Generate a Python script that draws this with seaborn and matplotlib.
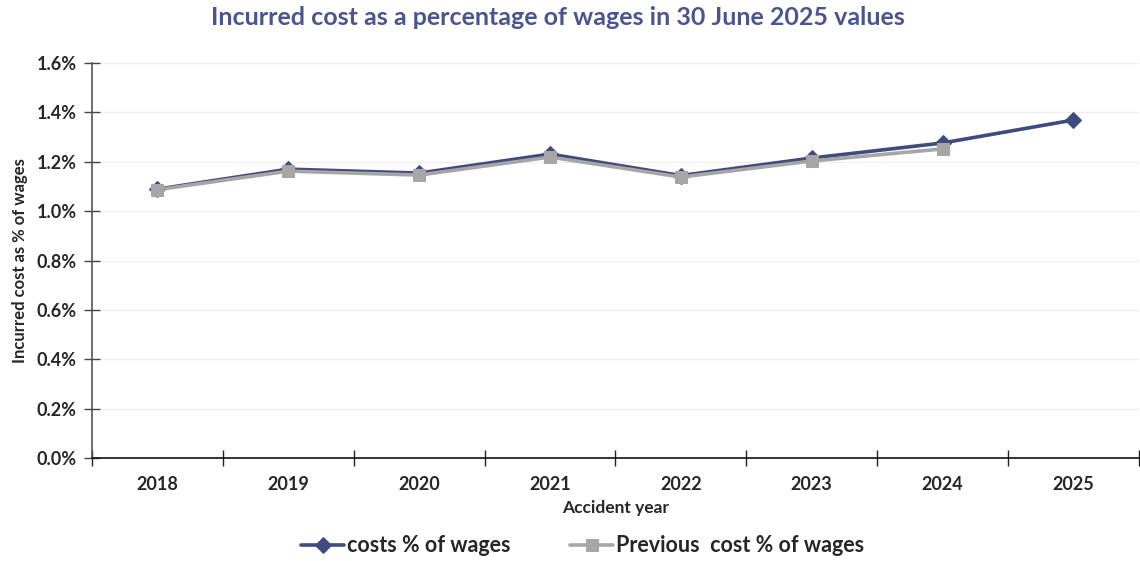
import numpy as np
import pandas as pd
import matplotlib
matplotlib.use("Agg")
import matplotlib.pyplot as plt
import seaborn as sns
from matplotlib.ticker import FuncFormatter, FixedLocator

years = ["2018", "2019", "2020", "2021", "2022", "2023", "2024", "2025"]
current_pct = [1.089, 1.170, 1.154, 1.231, 1.144, 1.215, 1.276, 1.369]
previous_pct = [1.087, 1.162, 1.146, 1.219, 1.138, 1.203, 1.252, np.nan]

series_current = "costs % of wages"
series_previous = "Previous  cost % of wages"

navy = "#3F4A7E"
grey = "#A6A6A6"
title_color = "#4A5590"

sns.set_theme(style="white")
plt.rcParams["font.family"] = ["Lato", "DejaVu Sans"]

df = pd.DataFrame({
    "pos": list(range(len(years))) * 2,
    "value": current_pct + previous_pct,
    "series": [series_current] * len(years) + [series_previous] * len(years),
}).dropna()

fig = plt.figure(figsize=(11.4, 5.61), dpi=100)
ax = fig.add_axes([0.0807, 0.1836, 0.9183, 0.7041])

# previous series first so the current one sits on top
sns.lineplot(data=df[df.series == series_previous], x="pos", y="value",
             color=grey, marker="s", markersize=9, markeredgecolor=grey,
             linewidth=2.6, ax=ax, label=series_previous, zorder=3)
sns.lineplot(data=df[df.series == series_current], x="pos", y="value",
             color=navy, marker="D", markersize=8, markeredgecolor=navy,
             linewidth=2.6, ax=ax, label=series_current, zorder=2)

ax.set_xlim(-0.5, len(years) - 0.5)
ax.set_ylim(0, 1.6)
ax.yaxis.set_major_locator(FixedLocator(np.arange(0, 1.61, 0.2)))
ax.yaxis.set_major_formatter(FuncFormatter(lambda v, _: f"{v:.1f}%"))

# category labels centred, ticks between categories
ax.set_xticks(np.arange(-0.5, len(years), 1.0))
ax.set_xticklabels([])
ax.set_xticks(np.arange(len(years)), minor=True)
ax.set_xticklabels(years, minor=True, fontsize=13, fontweight="bold")
ax.tick_params(axis="x", which="minor", bottom=False, length=0, pad=13)
ax.tick_params(axis="x", which="major", bottom=True, direction="inout",
               length=12, width=1, color="#222222")
ax.tick_params(axis="y", left=True, direction="inout", length=12, width=1,
               color="#444444", labelsize=13, pad=5)
for lbl in ax.get_yticklabels():
    lbl.set_fontweight("bold")

ax.grid(axis="y", color="#EEEEEE", linewidth=0.9)
ax.grid(axis="x", visible=False)
for side in ["top", "right"]:
    ax.spines[side].set_visible(False)
ax.spines["left"].set_color("#555555")
ax.spines["left"].set_linewidth(1.2)
ax.spines["bottom"].set_color("#111111")
ax.spines["bottom"].set_linewidth(1.2)
ax.set_axisbelow(True)

ax.set_xlabel("Accident year", fontsize=12.5, fontweight="bold", labelpad=5)
ax.set_ylabel("Incurred cost as % of wages", fontsize=12, fontweight="bold", labelpad=6)

fig.suptitle("Incurred cost as a percentage of wages in 30 June 2025 values",
             x=0.489, y=0.99, fontsize=18, fontweight="bold", color=title_color)

handles, labels = ax.get_legend_handles_labels()
order = [labels.index(series_current), labels.index(series_previous)]
ax.legend([handles[i] for i in order], [labels[i] for i in order],
          loc="center", bbox_to_anchor=(0.511, 0.027), bbox_transform=fig.transFigure,
          ncol=2, frameon=False, columnspacing=2.8,
          prop={"size": 15.5, "weight": "bold"},
          handlelength=2.0, handletextpad=0.1)

fig.savefig("out.png", dpi=100)
